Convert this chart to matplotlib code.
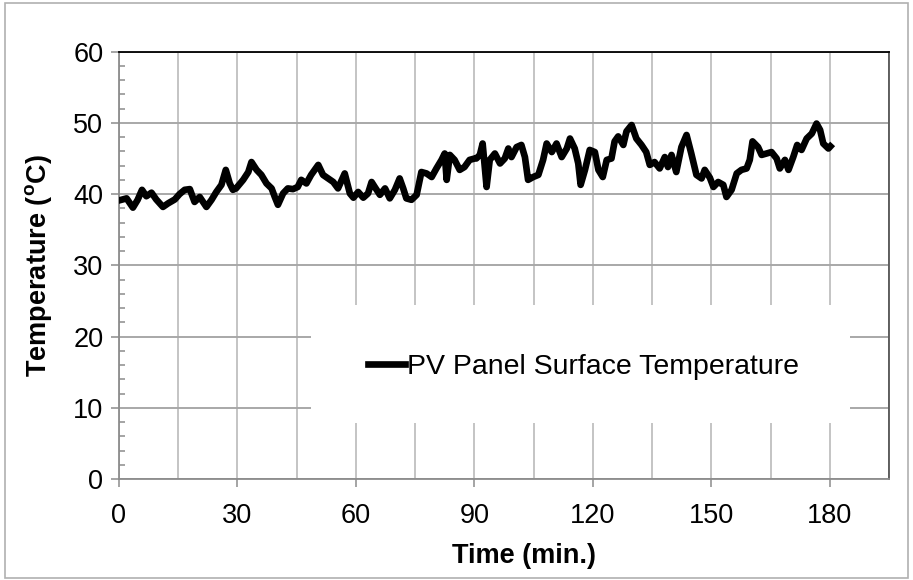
import matplotlib
matplotlib.use('Agg')
import matplotlib.pyplot as plt
from matplotlib.ticker import MultipleLocator
from matplotlib.patches import Rectangle

plt.rcParams['font.family'] = ['Liberation Sans', 'DejaVu Sans']

# time (min.) and PV panel surface temperature (oC)
time_min = [0.0, 1.0, 2.0, 3.6, 4.8, 5.9, 7.0, 8.3, 9.5, 11.2, 12.5, 14.2, 15.4,
            16.7, 18.0, 19.2, 20.5, 22.2, 23.5, 24.7, 26.0, 27.1, 28.1, 28.9,
            29.7, 31.5, 32.8, 33.6, 34.9, 36.1, 37.4, 38.7, 39.5, 40.3, 41.6,
            42.8, 44.1, 45.3, 46.2, 47.5, 48.7, 50.5, 51.7, 53.0, 54.3, 55.5,
            57.2, 58.5, 59.4, 60.6, 61.9, 63.1, 64.0, 64.8, 66.1, 67.4, 68.6,
            69.9, 71.1, 72.0, 72.8, 74.1, 75.4, 76.6, 77.9, 79.2, 80.4, 81.7,
            82.5, 83.0, 83.8, 85.0, 86.3, 87.5, 88.8, 90.1, 90.5, 91.4, 92.1,
            93.1, 93.9, 95.2, 96.5, 97.7, 98.6, 99.4, 100.7, 101.9, 102.8,
            103.6, 104.9, 106.2, 107.4, 108.3, 109.6, 110.8, 112.1, 113.4,
            114.2, 115.4, 116.3, 116.9, 118.0, 119.2, 120.5, 121.4, 122.5,
            123.5, 124.7, 125.5, 126.4, 127.7, 128.5, 129.8, 131.0, 132.3,
            133.5, 134.4, 135.6, 136.9, 138.2, 139.0, 139.9, 141.1, 142.4,
            143.7, 144.9, 146.2, 147.5, 148.3, 149.6, 150.5, 151.7, 153.0,
            153.8, 155.1, 156.4, 157.6, 158.9, 159.7, 160.4, 161.8, 162.7,
            164.0, 165.2, 166.5, 167.3, 168.6, 169.5, 170.7, 171.7, 172.8,
            174.1, 175.4, 176.6, 177.5, 178.3, 179.6, 180.1]
temp_c = [39.1, 39.25, 39.4, 38.1, 39.2, 40.6, 39.7, 40.2, 39.25, 38.2, 38.7,
          39.25, 40.0, 40.6, 40.7, 38.9, 39.6, 38.2, 39.2, 40.3, 41.3, 43.4,
          41.5, 40.6, 40.8, 42.0, 43.1, 44.5, 43.4, 42.7, 41.5, 40.8, 39.6,
          38.5, 40.1, 40.8, 40.7, 41.0, 42.0, 41.5, 42.7, 44.1, 42.7, 42.2,
          41.7, 40.8, 42.9, 40.1, 39.5, 40.3, 39.5, 40.1, 41.7, 41.0, 39.9,
          40.8, 39.4, 40.6, 42.2, 40.8, 39.4, 39.2, 39.9, 43.1, 42.9, 42.4,
          43.6, 44.8, 45.7, 42.0, 45.5, 44.8, 43.4, 43.8, 44.8, 45.0, 45.0,
          45.5, 47.1, 41.0, 44.8, 45.7, 44.3, 45.0, 46.4, 45.2, 46.6, 46.9,
          45.2, 42.0, 42.4, 42.7, 44.8, 47.1, 45.9, 47.1, 45.2, 46.4, 47.8,
          46.4, 44.3, 41.3, 43.4, 46.2, 45.9, 43.4, 42.4, 44.8, 45.0, 47.4,
          48.1, 46.9, 48.8, 49.7, 47.8, 46.9, 45.9, 44.1, 44.5, 43.6, 45.2,
          43.8, 45.5, 43.1, 46.6, 48.3, 45.7, 42.7, 42.2, 43.4, 42.3, 41.0,
          41.7, 41.3, 39.6, 40.6, 42.9, 43.4, 43.6, 44.8, 47.4, 46.6, 45.5,
          45.7, 45.9, 45.0, 43.6, 44.8, 43.4, 45.2, 46.9, 46.2, 47.8, 48.5,
          49.9, 49.0, 47.1, 46.4, 46.7]

series_label = 'PV Panel Surface Temperature'
x_ticks = [0, 30, 60, 90, 120, 150, 180]
y_ticks = [0, 10, 20, 30, 40, 50, 60]

fig = plt.figure(figsize=(9.13, 5.8), dpi=100)
ax = fig.add_axes([0.130, 0.174, 0.844, 0.737])

ax.plot(time_min, temp_c, color='black', lw=4.8, solid_joinstyle='round',
        label=series_label, zorder=3)

ax.set_xlim(0, 195)
ax.set_ylim(0, 60)
ax.set_xticks(x_ticks)
ax.set_yticks(y_ticks)
ax.xaxis.set_minor_locator(MultipleLocator(15))
ax.yaxis.set_minor_locator(MultipleLocator(2))

ax.grid(axis='x', which='both', color='#c4c4c4', lw=1.4, zorder=0)
ax.grid(axis='y', which='major', color='#a8a8a8', lw=1.4, zorder=0)
ax.set_axisbelow(True)

ax.tick_params(axis='both', which='major', direction='out', length=6,
               width=1.1, color='#8c8c8c', labelsize=19.5)
ax.tick_params(axis='x', which='major', pad=11)
ax.tick_params(axis='y', which='major', pad=5)
ax.tick_params(axis='x', which='minor', length=0)
ax.tick_params(axis='y', which='minor', direction='in', length=4.5,
               width=1.1, color='#8c8c8c')

ax.spines['left'].set_color('#8c8c8c')
ax.spines['bottom'].set_color('#8c8c8c')
ax.spines['top'].set_color('black')
ax.spines['right'].set_color('#555555')
for s in ax.spines.values():
    s.set_linewidth(1.3)

ax.set_xlabel('Time (min.)', fontsize=19.5, fontweight='bold', labelpad=8)
ax.xaxis.set_label_coords(0.526, -0.15)
ax.set_ylabel(r'Temperature ($^\mathregular{o}$C)', fontsize=19.5,
              fontweight='bold', labelpad=14)

# white legend area (no border) hiding the grid
ax.add_patch(Rectangle((0.249, 0.131), 0.700, 0.276, transform=ax.transAxes,
                       facecolor='white', edgecolor='none', zorder=4))
leg = ax.legend(loc='center', bbox_to_anchor=(0.603, 0.262), frameon=False,
                fontsize=20.5, handlelength=1.3, handletextpad=0.08)
leg.set_zorder(5)

fig.patches.append(Rectangle((0.006, 0.004), 0.988, 0.99, transform=fig.transFigure,
                             fill=False, edgecolor='#b0b0b0', lw=1.2))

fig.savefig('out.png', dpi=100)
